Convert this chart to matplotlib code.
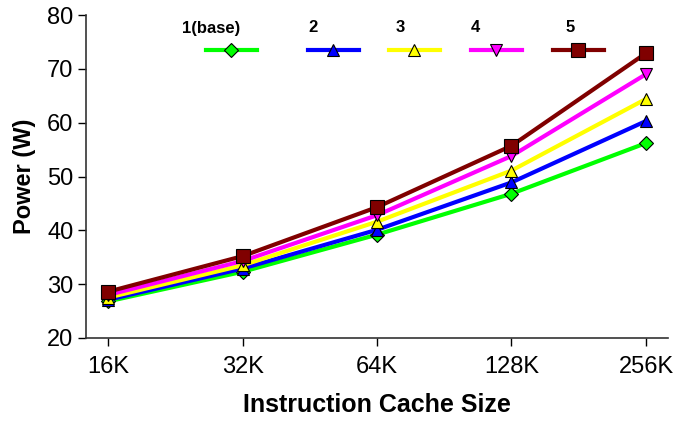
import matplotlib
matplotlib.use("Agg")
import matplotlib.pyplot as plt
from matplotlib.lines import Line2D

plt.rcParams["font.family"] = ["Liberation Sans", "DejaVu Sans"]

cache_sizes = ["16K", "32K", "64K", "128K", "256K"]
series_names = ["1(base)", "2", "3", "4", "5"]

power_1 = [26.8, 32.3, 39.2, 46.8, 56.2]
power_2 = [27.1, 32.9, 40.1, 48.9, 60.3]
power_3 = [27.5, 33.5, 41.6, 51.1, 64.4]
power_4 = [28.0, 34.3, 42.8, 53.8, 69.0]
power_5 = [28.6, 35.2, 44.3, 55.7, 72.9]

all_power = [power_1, power_2, power_3, power_4, power_5]
colors = ["#00ff00", "#0000ff", "#ffff00", "#ff00ff", "#800000"]
markers = ["D", "^", "^", "v", "s"]
msizes = [7, 9, 9, 9, 9.5]

fig = plt.figure(figsize=(6.97, 4.21), dpi=100)
ax = fig.add_axes([86 / 697, 1 - 338 / 421, 582 / 697, 323 / 421])

x = list(range(len(cache_sizes)))
for vals, c, m, ms in zip(all_power, colors, markers, msizes):
    ax.plot(x, vals, color=c, lw=3, marker=m, ms=ms,
            markerfacecolor=c, markeredgecolor="black", markeredgewidth=0.8,
            clip_on=False, zorder=3)

ax.set_xlim(-0.164, 4.164)
ax.set_ylim(20, 80)
ax.set_xticks(x)
ax.set_xticklabels(cache_sizes)
ax.set_yticks(range(20, 81, 10))
ax.tick_params(direction="out", length=6, width=1, labelsize=17)
ax.tick_params(axis="x", pad=7)
ax.tick_params(axis="y", pad=3)
for side in ["top", "right"]:
    ax.spines[side].set_visible(False)
for side in ["left", "bottom"]:
    ax.spines[side].set_linewidth(1.2)
    ax.spines[side].set_color("#333333")

ax.set_xlabel("Instruction Cache Size", fontsize=18, fontweight="bold", labelpad=11)
ax.set_ylabel("Power (W)", fontsize=17, fontweight="bold", labelpad=8)

# legend drawn by hand: names above short line samples
line_x = [206, 308, 389, 471, 553]
text_x = [211, 313, 400, 475, 570]
for lx, tx, name, c, m, ms in zip(line_x, text_x, series_names, colors, markers, msizes):
    fig.add_artist(Line2D([lx / 697, (lx + 51) / 697], [1 - 50 / 421] * 2,
                          color=c, lw=3, transform=fig.transFigure))
    fig.add_artist(Line2D([(lx + 25) / 697], [1 - 50 / 421], color=c, marker=m,
                          ms=ms, markerfacecolor=c, markeredgecolor="black",
                          markeredgewidth=0.8, transform=fig.transFigure))
    fig.text(tx / 697, 1 - 28 / 421, name, ha="center", va="center",
             fontsize=12, fontweight="bold")

fig.savefig("out.png", dpi=100)
